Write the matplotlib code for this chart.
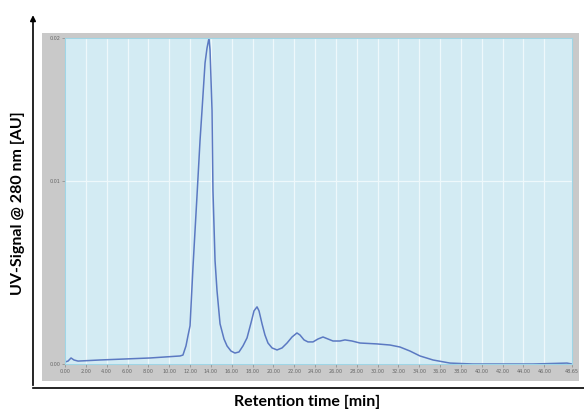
import matplotlib.pyplot as plt
from matplotlib.patches import Rectangle, FancyArrowPatch
from matplotlib.lines import Line2D

# chromatogram (min, AU)
time_min = [0.00, 0.29, 0.58, 0.86, 1.25, 3.36, 8.16, 11.04, 11.32, 11.61,
            11.80, 12.00, 12.28, 12.67, 12.96, 13.15, 13.44, 13.63, 13.82, 13.92,
            14.11, 14.20, 14.40, 14.59, 14.88, 15.26, 15.55, 15.93, 16.31, 16.70,
            17.08, 17.47, 17.85, 18.14, 18.43, 18.62, 18.91, 19.19, 19.48, 19.87,
            20.35, 20.83, 21.31, 21.79, 22.26, 22.55, 22.94, 23.32, 23.80, 24.28,
            24.76, 25.24, 25.72, 26.39, 26.87, 27.54, 28.31, 29.94, 31.19, 32.15,
            33.11, 34.07, 35.32, 36.95, 39.16, 41.75, 44.91, 48.18, 48.65]
signal_au = [0.00011, 0.00016, 0.00033, 0.00022, 0.00016, 0.00022, 0.00033, 0.00044, 0.00049, 0.00099,
             0.00154, 0.00209, 0.00528, 0.00923, 0.01225, 0.01390, 0.01649, 0.01731, 0.01786, 0.01720,
             0.01390, 0.00951, 0.00566, 0.00401, 0.00220, 0.00137, 0.00099, 0.00071, 0.00060, 0.00066,
             0.00099, 0.00143, 0.00225, 0.00291, 0.00313, 0.00291, 0.00220, 0.00159, 0.00115, 0.00088,
             0.00077, 0.00088, 0.00115, 0.00148, 0.00170, 0.00159, 0.00132, 0.00121, 0.00121, 0.00137,
             0.00148, 0.00137, 0.00126, 0.00126, 0.00132, 0.00126, 0.00115, 0.00110, 0.00104, 0.00093,
             0.00071, 0.00044, 0.00022, 0.00005, 0.0, 0.0, 0.0, 0.00005, 0.0]

x_ticks = list(range(0, 48, 2)) + [48.65]
x_ticklabels = ['%d.00' % t for t in range(0, 48, 2)] + ['48.65']
y_ticks = [0.0, 0.01, 0.01786]
y_ticklabels = ['0.00', '0.01', '0.02']

fig = plt.figure(figsize=(5.84, 4.12), dpi=100)

# grey frame of the software screenshot
fig.patches.append(Rectangle((0.0719, 0.0752), 0.9195, 0.8448, transform=fig.transFigure,
                             facecolor='#c9c9c9', edgecolor='none', zorder=-1))

ax = fig.add_axes([0.1113, 0.1165, 0.868, 0.7913])
ax.set_facecolor('#d3ebf3')
ax.plot(time_min, signal_au, color='#5b79c2', lw=1.1)
ax.set_xlim(0, 48.65)
ax.set_ylim(0, 0.01786)
ax.set_xticks(x_ticks)
ax.set_xticklabels(x_ticklabels)
ax.set_yticks(y_ticks)
ax.set_yticklabels(y_ticklabels)
ax.tick_params(labelsize=3.5, labelcolor='#666666', color='#888888', length=2, width=0.5, pad=1.5)
ax.grid(True, color='#eef8fb', lw=0.9)
for s in ax.spines.values():
    s.set_color('#9fd6e6')
    s.set_linewidth(0.8)

# black arrow axes round the screenshot
fig.add_artist(FancyArrowPatch((0.0565, 0.058), (0.0565, 0.970), transform=fig.transFigure,
                               arrowstyle='-|>', mutation_scale=8, color='black', lw=1.2))
fig.add_artist(Line2D([0.0565, 1.0], [0.058, 0.058], transform=fig.transFigure, color='black', lw=1.2))

fig.text(0.031, 0.508, 'UV-Signal @ 280 nm [AU]', rotation=90, ha='center', va='center',
         fontsize=11.5, fontweight='bold', family='Lato')
fig.text(0.526, 0.024, 'Retention time [min]', ha='center', va='center',
         fontsize=11.5, fontweight='bold', family='Lato')

fig.savefig('out.png', dpi=100)
